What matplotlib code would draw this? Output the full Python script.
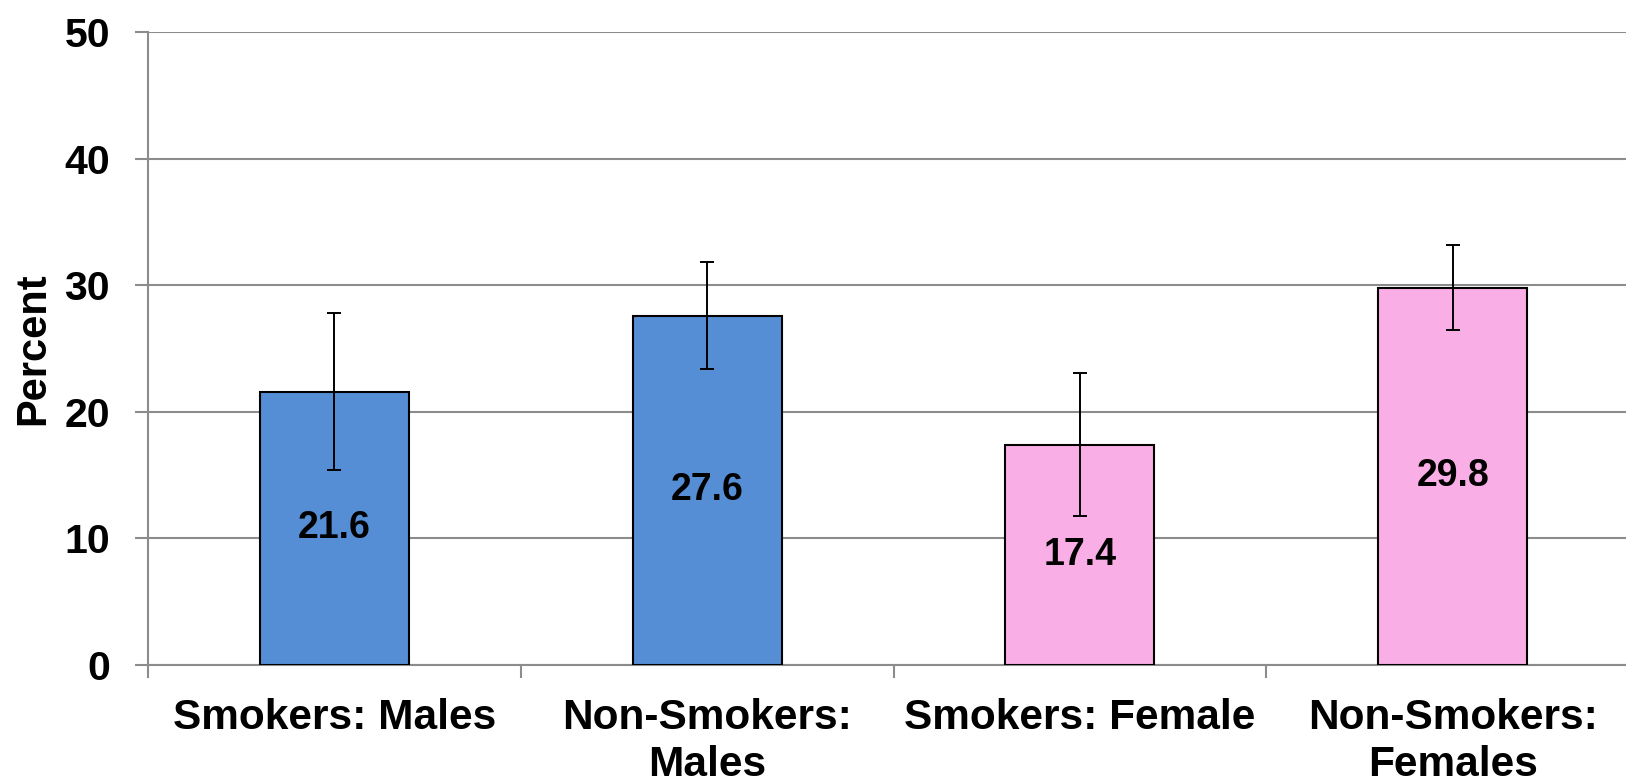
import matplotlib.pyplot as plt

categories = ['Smokers: Males', 'Non-Smokers:\nMales', 'Smokers: Female', 'Non-Smokers:\nFemales']
values = [21.6, 27.6, 17.4, 29.8]
errors = [6.2, 4.2, 5.65, 3.35]
colors = ['#558ED5', '#558ED5', '#FAAEE6', '#FAAEE6']

plt.rcParams['font.family'] = ['Liberation Sans', 'DejaVu Sans']
plt.rcParams['font.weight'] = 'bold'

fig = plt.figure(figsize=(16.26, 7.82), dpi=100)
ax = fig.add_axes([148 / 1626, 117 / 782, 1491 / 1626, 633 / 782])

x = range(len(categories))
ax.bar(x, values, width=0.4, color=colors, edgecolor='black', linewidth=1.5, zorder=3)
ax.errorbar(x, values, yerr=errors, fmt='none', ecolor='black', elinewidth=1.4,
            capsize=5, capthick=1.4, zorder=4)

for xi, v in zip(x, values):
    ax.text(xi, v / 2, f'{v}', ha='center', va='center', fontsize=27, fontweight='bold', zorder=5)

ax.set_xlim(-0.5, 3.5)
ax.set_ylim(0, 50)
ax.set_yticks([0, 10, 20, 30, 40, 50])
ax.yaxis.grid(True, color='#8C8C8C', linewidth=1.5, zorder=0)
ax.set_axisbelow(True)

ax.set_xticks(list(x))
ax.set_xticklabels(categories, fontsize=30.5, fontweight='bold', linespacing=1.22)
ax.set_xticks([-0.5, 0.5, 1.5, 2.5, 3.5], minor=True)
ax.tick_params(axis='x', which='major', length=0, pad=24)
ax.tick_params(axis='x', which='minor', length=9, width=1.5, color='#8C8C8C', direction='out')
ax.tick_params(axis='y', length=9.5, width=1.5, color='#8C8C8C', labelsize=29.5, pad=18)

for s in ['top', 'right']:
    ax.spines[s].set_visible(False)
for s in ['left', 'bottom']:
    ax.spines[s].set_color('#8C8C8C')
    ax.spines[s].set_linewidth(1.5)

ax.set_ylabel('Percent', fontsize=30, fontweight='bold', labelpad=8)

fig.savefig('out.png', dpi=100)
